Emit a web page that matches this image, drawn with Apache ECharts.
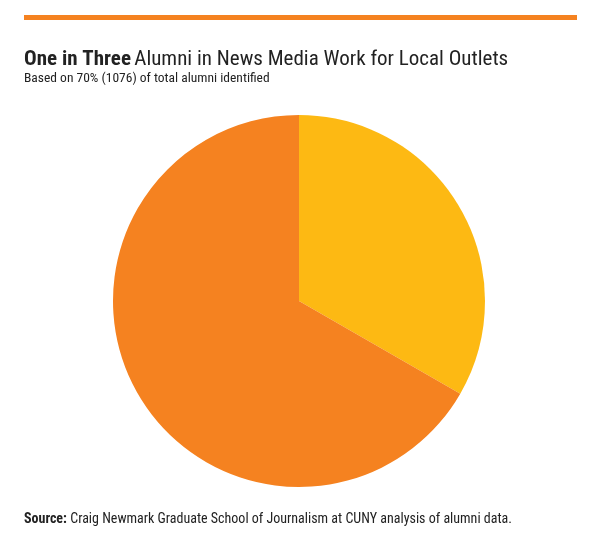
<!DOCTYPE html>
<html><head><meta charset="utf-8">
<script src="https://cdn.jsdelivr.net/npm/echarts@6/dist/echarts.min.js"></script>
<style>html,body{margin:0;padding:0;background:#fff}#c{width:600px;height:551px}</style>
</head><body><div id="c"></div>
<script>
const categories = ["Local outlets", "Other outlets"];
const values = [33.3, 66.7];
const colors = ["#FDB913", "#F58220"];
const chart = echarts.init(document.getElementById('c'));
const F = "'Liberation Sans Narrow','Roboto Condensed','Liberation Sans',sans-serif";
chart.setOption({
  animation: false,
  graphic: [
    {type:'rect', shape:{x:24,y:15,width:553,height:5}, style:{fill:'#F58220'}},
    {type:'text', left:24, top:49, style:{rich:{b:{fontWeight:'bold',fontSize:21,fontFamily:F,fill:'#222'},n:{fontSize:21,fontFamily:F,fill:'#222'}}, text:'{b|One in Three} {n|Alumni in News Media Work for Local Outlets}'}},
    {type:'text', left:24, top:72, style:{text:'Based on 70% (1076) of total alumni identified', fontSize:13.5, fontFamily:F, fill:'#222'}},
    {type:'text', left:24, top:512, style:{rich:{b:{fontWeight:'bold',fontSize:14,fontFamily:F,fill:'#222'},n:{fontSize:14,fontFamily:F,fill:'#222'}}, text:'{b|Source:} {n|Craig Newmark Graduate School of Journalism at CUNY analysis of alumni data.}'}}
  ],
  series: [{
    type:'pie', center:[299,301], radius:[0,186], startAngle:90, clockwise:true,
    label:{show:false}, labelLine:{show:false}, emphasis:{disabled:true},
    data: categories.map((c,i)=>({name:c, value:values[i], itemStyle:{color:colors[i]}}))
  }]
});
</script></body></html>
